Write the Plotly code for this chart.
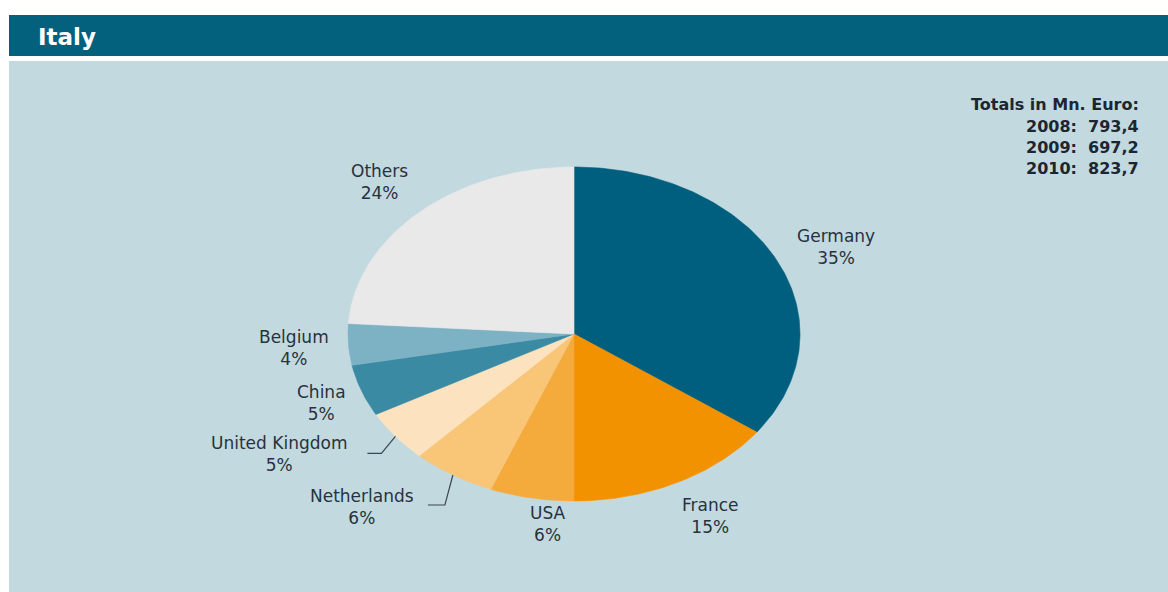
import math
import plotly.graph_objects as go

# Export destinations of Italy, share of total (%), clockwise from 12 o'clock
countries = ["Germany", "France", "USA", "Netherlands", "United Kingdom", "China", "Belgium", "Others"]
shares = [35, 15, 6, 6, 5, 5, 4, 24]
slice_colors = ["#005f7e", "#f39200", "#f5aa3c", "#f9c678", "#fce2bf", "#3a8aa3", "#7db2c4", "#e9e9ea"]

# Totals in million euro
years = ["2008", "2009", "2010"]
totals = ["793,4", "697,2", "823,7"]

W, H = 1168, 592
CX, CY, RX, RY = 574, 334, 226, 167          # pie centre and radii (pixels)
LABEL_XY = {
    "Germany": (836, 247), "France": (710, 516), "USA": (548, 524),
    "Netherlands": (362, 507), "United Kingdom": (279, 454), "China": (321, 403),
    "Belgium": (294, 348), "Others": (379, 182),
}
LEADERS = {"United Kingdom": ((-14, 17), (-28, 17)), "Netherlands": ((-8, 30), (-25, 30))}
TEXT = "#27323d"
FONT = "DejaVu Sans"


def edge(frac):
    a = 2 * math.pi * frac
    return CX + RX * math.sin(a), CY - RY * math.cos(a)


fig = go.Figure()
total = sum(shares)
start = 0.0
for name, val, col in zip(countries, shares, slice_colors):
    end = start + val / total
    n = max(4, int(val * 4))
    xs, ys = [CX], [CY]
    for i in range(n + 1):
        x, y = edge(start + (end - start) * i / n)
        xs.append(x)
        ys.append(y)
    xs.append(CX)
    ys.append(CY)
    fig.add_trace(go.Scatter(x=xs, y=ys, mode="lines", fill="toself", fillcolor=col,
                             line=dict(color=col, width=0.6), hoverinfo="text",
                             text=f"{name}: {val}%", showlegend=False))
    if name in LEADERS:
        ex, ey = edge((start + end) / 2)
        (dx1, dy1), (dx2, dy2) = LEADERS[name]
        fig.add_trace(go.Scatter(x=[ex, ex + dx1, ex + dx2], y=[ey, ey + dy1, ey + dy2],
                                 mode="lines", line=dict(color="#3b4650", width=1.2),
                                 hoverinfo="skip", showlegend=False))
    lx, ly = LABEL_XY[name]
    fig.add_annotation(x=lx, y=ly, xref="x", yref="y", text=f"{name}<br>{val}%",
                       showarrow=False, align="center",
                       font=dict(family=FONT, size=17, color=TEXT))
    start = end

# Totals block
fig.add_annotation(x=1141, y=104, xref="x", yref="y", text="<b>Totals in Mn. Euro:</b>",
                   showarrow=False, xanchor="right", yanchor="middle",
                   font=dict(family=FONT, size=16, color="#1c2631"))
for i, (yr, tv) in enumerate(zip(years, totals)):
    fig.add_annotation(x=1141, y=126 + 21 * i, xref="x", yref="y",
                       text=f"<b>{yr}:  {tv}</b>", showarrow=False,
                       xanchor="right", yanchor="middle",
                       font=dict(family=FONT, size=16, color="#1c2631"))

# Header bar title
fig.add_annotation(x=36, y=37, xref="x", yref="y", text="<b>Italy</b>", showarrow=False,
                   xanchor="left", yanchor="middle",
                   font=dict(family=FONT, size=23, color="#ffffff"))

fig.update_layout(
    width=W, height=H, margin=dict(l=0, r=0, t=0, b=0),
    paper_bgcolor="#ffffff", plot_bgcolor="rgba(0,0,0,0)",
    xaxis=dict(range=[0, W], visible=False, fixedrange=True),
    yaxis=dict(range=[H, 0], visible=False, fixedrange=True),
    shapes=[
        dict(type="rect", xref="x", yref="y", x0=9, x1=W, y0=15, y1=56,
             fillcolor="#04617d", line=dict(width=0), layer="below"),
        dict(type="rect", xref="x", yref="y", x0=9, x1=W, y0=61, y1=H,
             fillcolor="#c2d9e0", line=dict(width=0), layer="below"),
    ],
)

fig.write_html("out.html")
